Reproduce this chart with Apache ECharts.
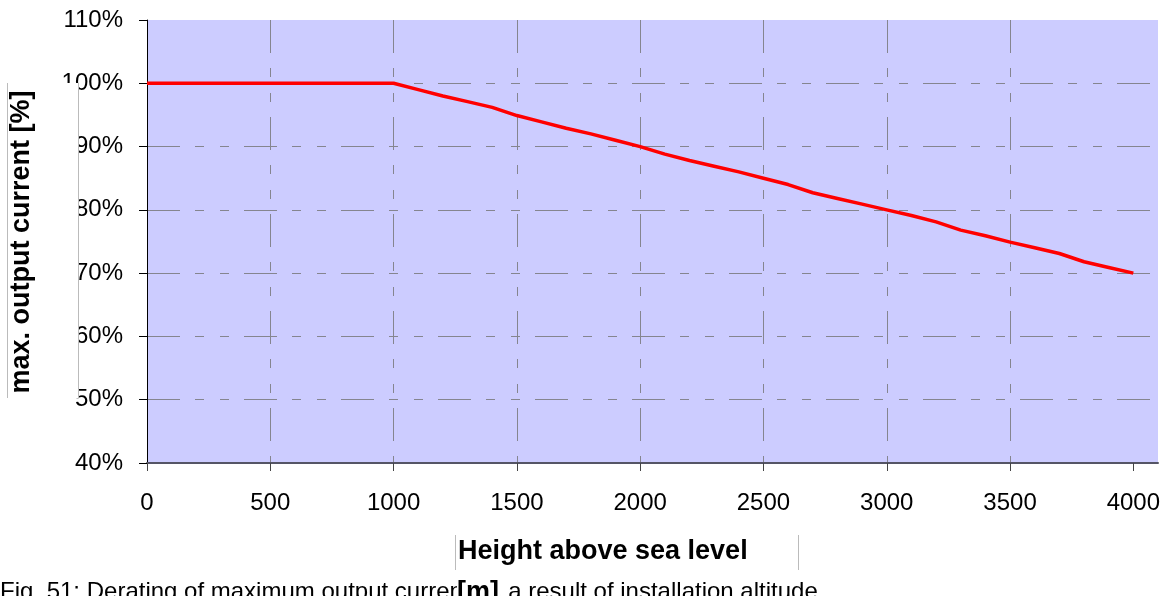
<!DOCTYPE html>
<html>
<head>
<meta charset="utf-8">
<title>Derating vs. altitude</title>
<script src="https://cdn.jsdelivr.net/npm/echarts@6/dist/echarts.min.js"></script>
<style>
  html, body { margin: 0; padding: 0; background: #ffffff; }
  #chart { width: 1168px; height: 596px; }
</style>
</head>
<body>
<div id="chart"></div>
<script>
// Installation altitude in metres
const heights = [0, 100, 200, 300, 400, 500, 600, 700, 800, 900, 1000,
  1100, 1200, 1300, 1400, 1500, 1600, 1700, 1800, 1900, 2000,
  2100, 2200, 2300, 2400, 2500, 2600, 2700, 2800, 2900, 3000,
  3100, 3200, 3300, 3400, 3500, 3600, 3700, 3800, 3900, 4000];

// Maximum permissible output current in percent of rated current
const currentPct = [100, 100, 100, 100, 100, 100, 100, 100, 100, 100, 100,
  99.0, 98.0, 97.1, 96.2, 94.9, 93.9, 92.9, 92.0, 91.0, 90.0,
  88.8, 87.8, 86.9, 86.0, 85.0, 84.0, 82.7, 81.8, 80.9, 80.0,
  79.1, 78.1, 76.8, 75.9, 74.9, 74.0, 73.1, 71.8, 70.9, 70.0];

// Labelled altitude ticks
const xTicks = [0, 500, 1000, 1500, 2000, 2500, 3000, 3500, 4000];

const yAxisTitle = 'max. output current [%]';
const xAxisTitle1 = 'Height above sea level';
const xAxisTitle2 = '[m]';
const caption = 'Fig. 51: Derating of maximum output current as a result of installation altitude';

const FONT = '"Liberation Sans", Arial, Helvetica, sans-serif';
const gridDash = [33, 15, 9, 16, 9, 15];

const chart = echarts.init(document.getElementById('chart'), null, { renderer: 'canvas' });

chart.setOption({
  animation: false,
  backgroundColor: '#ffffff',
  grid: {
    left: 147, right: 10, top: 20, bottom: 133,
    show: true, backgroundColor: '#CCCCFF', borderWidth: 0
  },
  xAxis: {
    type: 'value',
    min: 0, max: 4100, interval: 500,
    axisLine: { show: true, onZero: false, lineStyle: { color: '#555566', width: 2 } },
    axisTick: { show: true, inside: false, length: 8, customValues: xTicks,
      lineStyle: { color: '#444444', width: 1 } },
    axisLabel: { show: true, margin: 28, color: '#000000', fontFamily: FONT, fontSize: 24,
      customValues: xTicks, formatter: (v) => String(v) },
    splitLine: { show: true, showMinLine: false, showMaxLine: false,
      lineStyle: { color: '#85858f', width: 1, type: gridDash } }
  },
  yAxis: {
    type: 'value',
    min: 40, max: 110, interval: 10,
    axisLine: { show: true, lineStyle: { color: '#000000', width: 1 } },
    axisTick: { show: true, inside: false, length: 8, lineStyle: { color: '#000000', width: 1 } },
    axisLabel: { margin: 24, color: '#000000', fontFamily: FONT, fontSize: 24,
      formatter: (v) => v + '%' },
    splitLine: { show: true, showMinLine: false, showMaxLine: false,
      lineStyle: { color: '#85858f', width: 1, type: gridDash } }
  },
  series: [{
    type: 'line',
    data: heights.map((h, i) => [h, currentPct[i]]),
    showSymbol: false,
    lineStyle: { color: '#FF0000', width: 3.5 },
    itemStyle: { color: '#FF0000' },
    z: 5
  }],
  graphic: [
    // Y axis title frame (white panel with thin side rules)
    { type: 'rect', left: 7, top: 83, shape: { width: 71, height: 315 },
      style: { fill: '#ffffff' }, z: 100 },
    { type: 'line', shape: { x1: 7.5, y1: 83, x2: 7.5, y2: 398 },
      style: { stroke: '#bbbbbb', lineWidth: 1 }, z: 101 },
    { type: 'line', shape: { x1: 78.5, y1: 83, x2: 78.5, y2: 398 },
      style: { stroke: '#bbbbbb', lineWidth: 1 }, z: 101 },
    { type: 'text', x: 22, y: 242, rotation: Math.PI / 2, z: 102,
      style: { text: yAxisTitle, fill: '#000000', fontFamily: FONT, fontWeight: 'bold',
        fontSize: 27, align: 'center', verticalAlign: 'middle' } },

    // Figure caption
    { type: 'text', x: 0, y: 580, z: 100,
      style: { text: caption, fill: '#000000', fontFamily: FONT, fontSize: 24,
        align: 'left', verticalAlign: 'top' } },

    // X axis title frame
    { type: 'line', shape: { x1: 455.5, y1: 535, x2: 455.5, y2: 570 },
      style: { stroke: '#bbbbbb', lineWidth: 1 }, z: 101 },
    { type: 'line', shape: { x1: 798.5, y1: 535, x2: 798.5, y2: 570 },
      style: { stroke: '#bbbbbb', lineWidth: 1 }, z: 101 },
    { type: 'text', x: 458, y: 552, z: 102,
      style: { text: xAxisTitle1, fill: '#000000', fontFamily: FONT, fontWeight: 'bold',
        fontSize: 27, align: 'left', verticalAlign: 'middle' } },
    { type: 'text', x: 457, y: 593, z: 103,
      style: { text: xAxisTitle2, fill: '#000000', fontFamily: FONT, fontWeight: 'bold',
        fontSize: 27, align: 'left', verticalAlign: 'middle',
        backgroundColor: '#ffffff', padding: [0, 2, 0, 0] } }
  ]
});
</script>
</body>
</html>
